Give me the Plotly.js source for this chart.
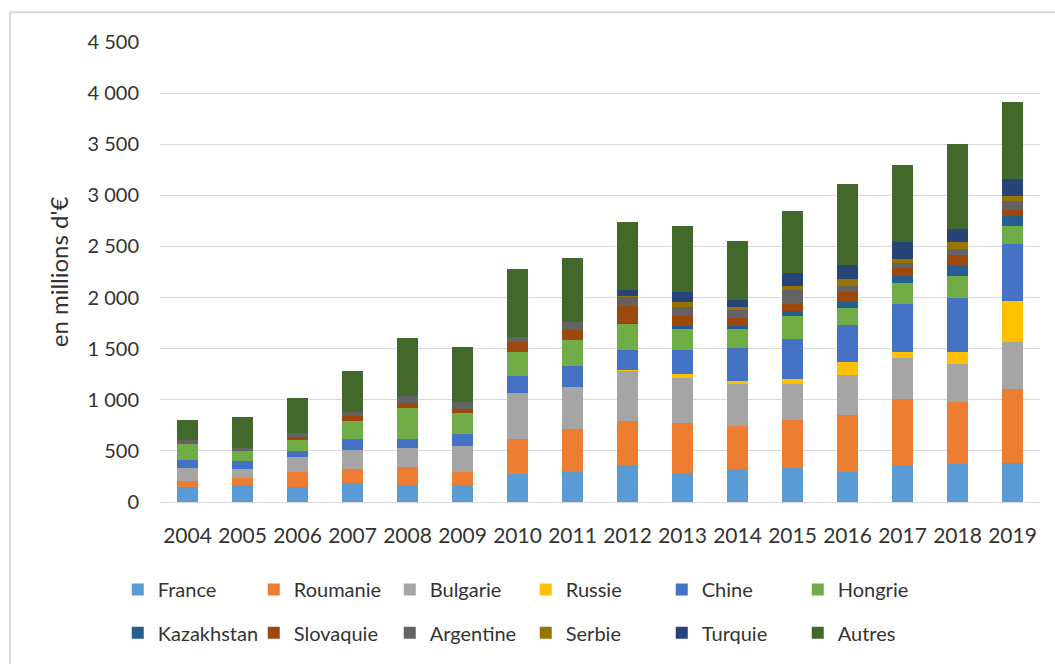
<!DOCTYPE html>
<html>
<head>
<meta charset="utf-8">
<script src="https://cdn.plot.ly/plotly-3.0.1.min.js"></script>
<style>
  html, body { margin: 0; padding: 0; background: #fff; }
  #chart { width: 1055px; height: 664px; }
</style>
</head>
<body>
<div id="chart"></div>
<script>
const years = ["2004","2005","2006","2007","2008","2009","2010","2011","2012","2013","2014","2015","2016","2017","2018","2019"];

const france     = [148,171,148,184,171,171,271,297,358,287,319,332,297,361,371,384];
const roumanie   = [62,61,149,138,174,126,348,422,436,484,426,474,558,643,610,720];
const bulgarie   = [122,87,148,184,184,248,446,407,484,446,410,349,384,409,371,461];
const russie     = [0,0,0,0,0,0,0,0,16,39,26,52,126,55,113,400];
const chine      = [75,78,58,110,90,123,164,203,197,235,323,390,365,471,526,561];
const hongrie    = [161,100,100,175,298,200,236,252,249,200,187,220,170,200,223,172];
const kazakhstan = [0,0,0,0,0,0,0,8,15,35,35,48,68,71,109,100];
const slovaquie  = [0,0,33,54,48,39,100,92,158,91,77,74,84,78,94,61];
const argentine  = [35,35,35,33,74,74,52,84,91,90,75,132,61,52,61,87];
const serbie     = [0,0,0,0,0,0,0,0,16,48,26,42,65,35,61,52];
const turquie    = [0,0,0,0,0,0,0,0,54,97,71,126,136,164,133,161];
const autres     = [197,300,348,400,561,532,667,619,662,646,578,604,793,755,832,755];

const seriesNames = ["France","Roumanie","Bulgarie","Russie","Chine","Hongrie","Kazakhstan","Slovaquie","Argentine","Serbie","Turquie","Autres"];
const seriesValues = [france,roumanie,bulgarie,russie,chine,hongrie,kazakhstan,slovaquie,argentine,serbie,turquie,autres];
const seriesColors = ["#5B9BD5","#ED7D31","#A5A5A5","#FFC000","#4472C4","#70AD47","#255E91","#9E480E","#636363","#997300","#264478","#43682B"];

const FONT = "Lato, 'Open Sans', sans-serif";
const TXT = "#333333";

const data = seriesNames.map((name, i) => ({
  type: "bar",
  name: name,
  x: years,
  y: seriesValues[i],
  marker: { color: seriesColors[i], line: { width: 0 } },
  legend: i < 6 ? "legend" : "legend2",
  hoverinfo: "x+y+name"
}));

const legendCommon = {
  orientation: "h",
  xanchor: "left",
  yanchor: "middle",
  x: -0.048,
  traceorder: "normal",
  entrywidth: 91,
  entrywidthmode: "pixels",
  font: { family: FONT, size: 20, color: TXT },
  bgcolor: "rgba(0,0,0,0)",
  itemclick: false,
  itemdoubleclick: false
};

const layout = {
  width: 1055,
  height: 664,
  margin: { l: 160, r: 15, t: 42, b: 157, pad: 0 },
  paper_bgcolor: "#fff",
  plot_bgcolor: "#fff",
  barmode: "stack",
  bargap: 0.61,
  separators: ", ",
  font: { family: FONT, size: 20, color: TXT },
  showlegend: true,
  legend: Object.assign({}, legendCommon, { y: -0.19 }),
  legend2: Object.assign({}, legendCommon, { y: -0.2845 }),
  xaxis: {
    type: "category",
    range: [-0.5, 15.5],
    showgrid: false,
    showline: true,
    linecolor: "#D9D9D9",
    linewidth: 1,
    ticks: "",
    ticklabelstandoff: 15,
    tickfont: { family: FONT, size: 21, color: TXT },
    fixedrange: true
  },
  yaxis: {
    range: [0, 4500],
    dtick: 500,
    tick0: 0,
    tickformat: ",d",
    showgrid: true,
    gridcolor: "#D9D9D9",
    gridwidth: 1,
    zeroline: false,
    showline: false,
    ticks: "",
    ticklabelstandoff: 20,
    tickfont: { family: FONT, size: 20, color: TXT },
    title: { text: "en millions d'€", font: { family: FONT, size: 24, color: TXT }, standoff: 12 },
    fixedrange: true
  },
  shapes: [
    { type: "line", xref: "paper", yref: "paper", x0: -0.1705, x1: -0.1705, y0: 1.0645, y1: -0.36, line: { color: "#D9D9D9", width: 2 } },
    { type: "line", xref: "paper", yref: "paper", x0: -0.1705, x1: 1.02, y0: 1.0645, y1: 1.0645, line: { color: "#D9D9D9", width: 2 } }
  ]
};

Plotly.newPlot("chart", data, layout, { displayModeBar: false, staticPlot: true });
</script>
</body>
</html>
